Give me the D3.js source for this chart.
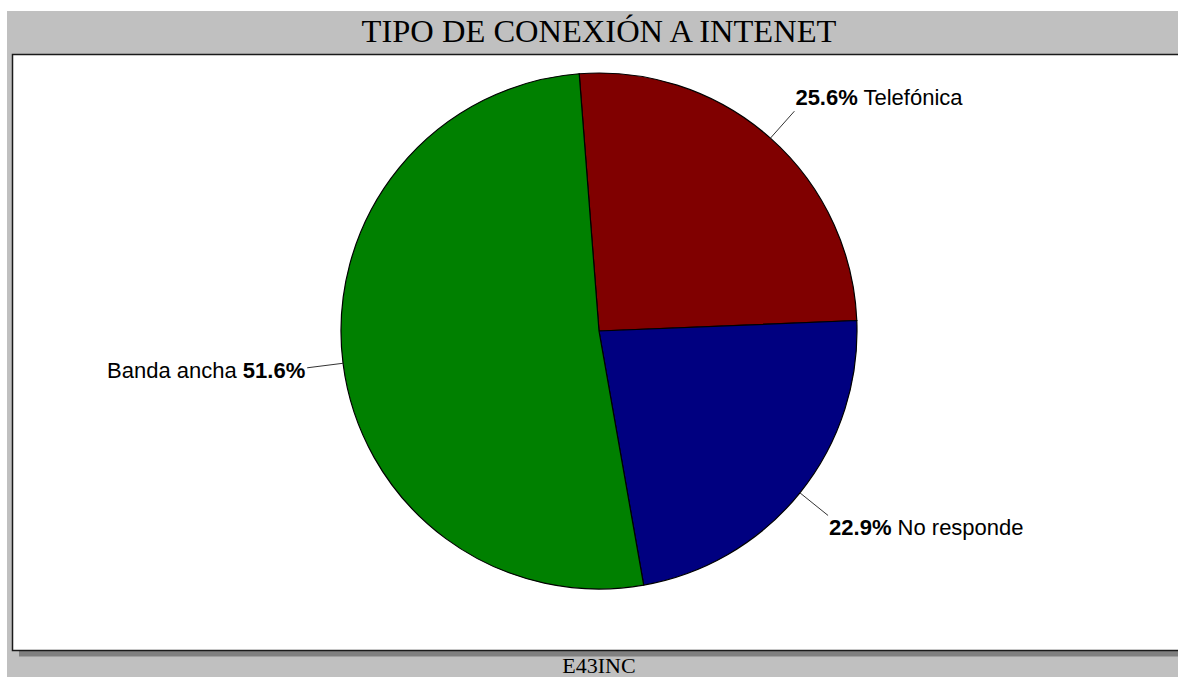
<!DOCTYPE html>
<html>
<head>
<meta charset="utf-8">
<script src="https://cdn.jsdelivr.net/npm/d3@7"></script>
<style>
  html, body { margin: 0; padding: 0; background: #fff; overflow: hidden; }
  svg { display: block; }
  .lbl { font-family: "Liberation Sans", Arial, sans-serif; font-size: 22px; fill: #000; }
  .lbl .pct { font-weight: bold; }
  .ttl { font-family: "Liberation Serif", "Times New Roman", serif; fill: #000; }
</style>
</head>
<body>
<svg id="chart"></svg>
<script>
// ── Data ─────────────────────────────────────────────
const title    = 'TIPO DE CONEXIÓN A INTENET';
const footer   = 'E43INC';
const labels   = ['Telefónica', 'No responde', 'Banda ancha'];
const values   = [25.6, 22.9, 51.6];   // percent, as printed
const colors   = ['#800000', '#000080', '#008000'];

// ── Layout ───────────────────────────────────────────
const W = 1178, H = 677;
const cx = 599, cy = 331, R = 258;
const START = -4.4 * Math.PI / 180;

const svg = d3.select('#chart').attr('width', W).attr('height', H);

// Frame: gray panel, shadow, white plot area
svg.append('rect')
  .attr('x', 7).attr('y', 11)
  .attr('width', W - 7).attr('height', H - 11)
  .attr('fill', '#c0c0c0');

svg.append('rect')
  .attr('x', 19).attr('y', 62)
  .attr('width', W).attr('height', 594)
  .attr('fill', '#808080');

svg.append('line')
  .attr('x1', 19).attr('x2', W)
  .attr('y1', 656.5).attr('y2', 656.5)
  .attr('stroke', '#a0a0a0');

svg.append('rect')
  .attr('x', 12.5).attr('y', 54.5)
  .attr('width', W).attr('height', 596)
  .attr('fill', '#fff')
  .attr('stroke', '#1a1a1a')
  .attr('stroke-width', 1.5);

// Titles
svg.append('text')
  .attr('class', 'ttl')
  .attr('x', 599).attr('y', 42)
  .attr('text-anchor', 'middle')
  .style('font-size', '32.5px')
  .text(title);

svg.append('text')
  .attr('class', 'ttl')
  .attr('x', 599).attr('y', 673)
  .attr('text-anchor', 'middle')
  .style('font-size', '22px')
  .text(footer);

// ── Pie ──────────────────────────────────────────────
const pie = d3.pie()
  .sort(null)
  .value(d => d.value)
  .startAngle(START)
  .endAngle(START + 2 * Math.PI);

const data = pie(labels.map((name, i) => ({ name, value: values[i], color: colors[i] })));

const arc = d3.arc().innerRadius(0).outerRadius(R);

const g = svg.append('g').attr('transform', `translate(${cx},${cy})`);

g.selectAll('path.slice')
  .data(data)
  .join('path')
  .attr('class', 'slice')
  .attr('d', arc)
  .attr('fill', d => d.data.color)
  .attr('stroke', '#000')
  .attr('stroke-width', 1.2);

// Leader lines + labels
const fmt = d3.format('.1f');

for (const d of data) {
  const a = (d.startAngle + d.endAngle) / 2;
  const sx = Math.sin(a), sy = -Math.cos(a);
  const x1 = R * sx, y1 = R * sy;
  const x2 = R * 1.14 * sx, y2 = R * 1.14 * sy;

  g.append('line')
    .attr('x1', x1).attr('y1', y1)
    .attr('x2', x2).attr('y2', y2)
    .attr('stroke', '#333')
    .attr('stroke-width', 1);

  const right = sx >= 0;
  const pct = fmt(d.data.value) + '%';
  const t = g.append('text')
    .attr('class', 'lbl')
    .attr('x', right ? x2 + 1 : x2 - 2)
    .attr('y', y2 + 8 - 18.8 * Math.cos(a))
    .attr('text-anchor', right ? 'start' : 'end');

  if (right) {
    t.append('tspan').attr('class', 'pct').text(pct);
    t.append('tspan').text(' ' + d.data.name);
  } else {
    t.append('tspan').text(d.data.name + ' ');
    t.append('tspan').attr('class', 'pct').text(pct);
  }
}
</script>
</body>
</html>
